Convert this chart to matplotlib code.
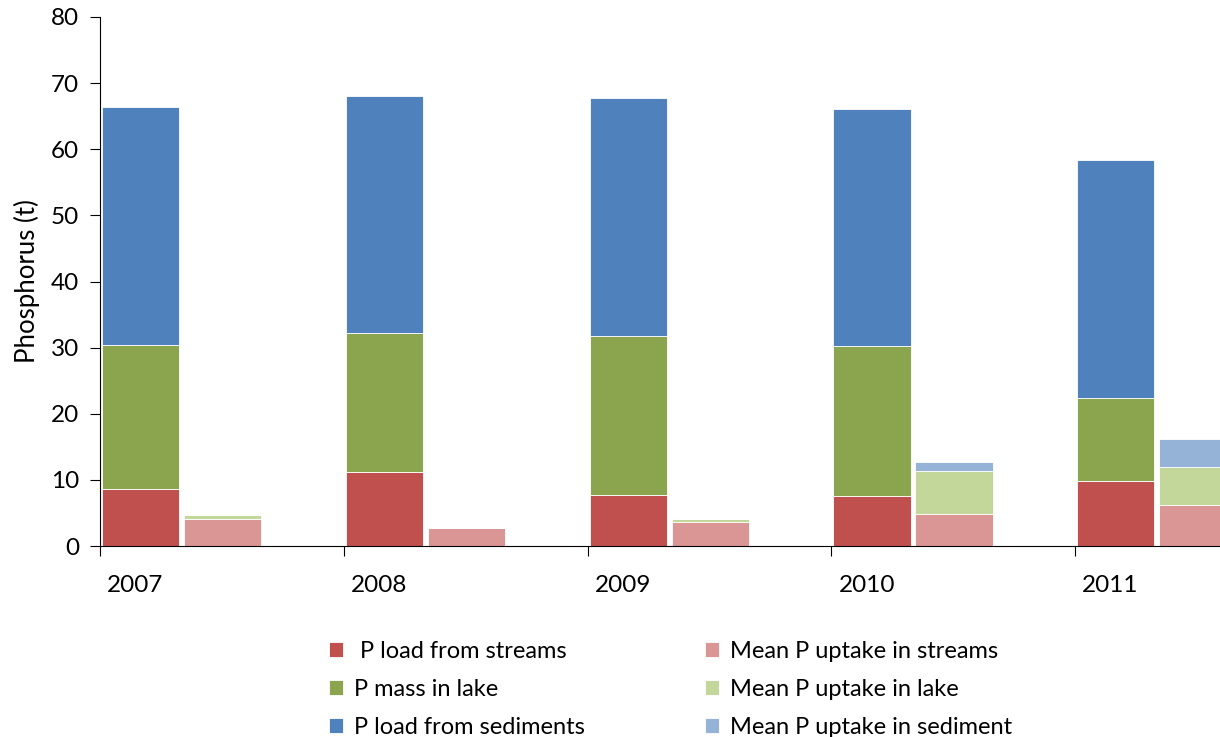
import matplotlib
matplotlib.use('Agg')
import matplotlib.pyplot as plt
import numpy as np

plt.rcParams['font.family'] = ['Lato', 'DejaVu Sans']

years = ['2007', '2008', '2009', '2010', '2011']

# left bar (stacked)
load_streams = [8.6, 11.2, 7.7, 7.6, 9.9]
mass_lake = [21.8, 21.0, 24.1, 22.7, 12.5]
load_sediments = [36.0, 35.9, 36.0, 35.8, 36.0]

# right bar (stacked)
uptake_streams = [4.1, 2.8, 3.7, 4.8, 6.25]
uptake_lake = [0.6, 0.0, 0.4, 6.5, 5.7]
uptake_sediment = [0.0, 0.0, 0.0, 1.45, 4.25]

fig = plt.figure(figsize=(12.2, 7.37), dpi=100)
ax = fig.add_axes([0.082, 0.259, 0.999, 0.718])

x = np.arange(len(years))
w = 0.317

left = [(load_streams, '#C0504D', ' P load from streams'),
        (mass_lake, '#8AA54E', 'P mass in lake'),
        (load_sediments, '#4F81BD', 'P load from sediments')]
right = [(uptake_streams, '#DA9694', 'Mean P uptake in streams'),
         (uptake_lake, '#C4D79B', 'Mean P uptake in lake'),
         (uptake_sediment, '#95B3D7', 'Mean P uptake in sediment')]

handles = []
bottom = np.zeros(len(years))
for vals, col, lab in left:
    b = ax.bar(x + 0.008, vals, w, bottom=bottom, align='edge', color=col,
               edgecolor='white', linewidth=0.6, label=lab)
    bottom += np.array(vals)
    handles.append(b)
bottom = np.zeros(len(years))
for vals, col, lab in right:
    b = ax.bar(x + 0.345, vals, w, bottom=bottom, align='edge', color=col,
               edgecolor='white', linewidth=0.6, label=lab)
    bottom += np.array(vals)
    handles.append(b)

ax.set_xlim(0, 5)
ax.set_ylim(0, 80)
ax.set_yticks(range(0, 81, 10))
ax.set_xticks(x)
ax.set_xticklabels([])
ax.set_xticks(x + 0.145, minor=True)
ax.set_xticklabels(years, minor=True)
ax.tick_params(axis='x', which='minor', length=0, pad=21, labelsize=17.5)
ax.tick_params(axis='x', which='major', length=7, direction='out')
ax.tick_params(axis='y', length=7, labelsize=17.5, pad=8)
ax.spines['top'].set_visible(False)
ax.spines['right'].set_visible(False)
ax.set_ylabel('Phosphorus (t)', fontsize=18.5, labelpad=8)

fig.legend(handles=handles, loc='upper left', bbox_to_anchor=(0.262, 0.143),
           ncol=2, frameon=False, fontsize=17, handlelength=0.6,
           handleheight=0.6, handletextpad=0.45, columnspacing=5.1,
           labelspacing=0.72, borderaxespad=0)

fig.savefig('out.png', dpi=100)
